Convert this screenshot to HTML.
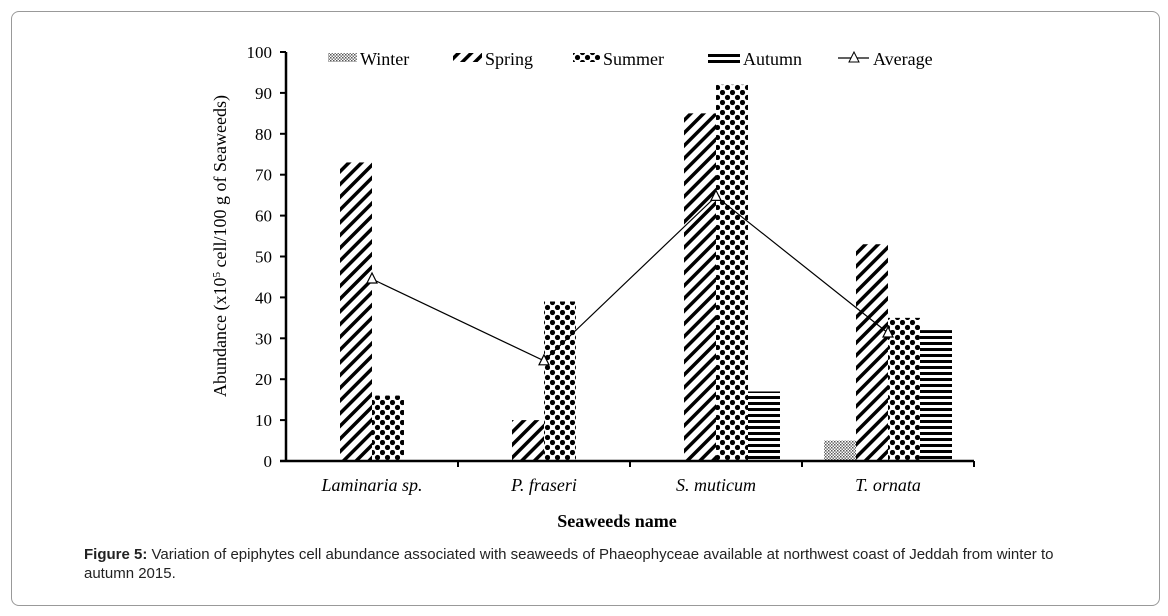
<!DOCTYPE html>
<html><head><meta charset="utf-8"><style>
html,body{margin:0;padding:0;background:#fff;}
body{width:1168px;height:616px;position:relative;overflow:hidden;font-family:"Liberation Serif",serif;}
#frame{position:absolute;left:11px;top:11px;width:1147px;height:593px;border:1px solid #999;border-radius:8px;}
#cap{position:absolute;left:84px;top:545px;width:1020px;font-family:"Liberation Sans",sans-serif;font-size:15px;line-height:19px;color:#222;}
</style></head><body>
<div id="frame"></div>
<svg id="chart" width="1168" height="616" style="position:absolute;left:0;top:0">
<defs>
<pattern id="pWinter" width="3" height="3" patternUnits="userSpaceOnUse"><rect width="3" height="3" fill="#fff"/><rect width="1.5" height="1.5" fill="#555"/><rect x="1.5" y="1.5" width="1.5" height="1.5" fill="#777"/></pattern>
<pattern id="pSpring" width="9" height="9" patternUnits="userSpaceOnUse" patternTransform="rotate(45)"><rect width="9" height="9" fill="#fff"/><rect width="3.5" height="9" fill="#000"/></pattern>
<pattern id="pSummer" width="10" height="10" patternUnits="userSpaceOnUse"><rect width="10" height="10" fill="#fff"/><circle cx="2.5" cy="2.5" r="2.6" fill="#000"/><circle cx="7.5" cy="7.5" r="2.6" fill="#000"/></pattern>
<pattern id="pAutumn" width="6" height="6" patternUnits="userSpaceOnUse"><rect width="6" height="6" fill="#fff"/><rect width="6" height="3" fill="#000"/></pattern>
</defs>
<g id="marks"></g>
</svg>
<div id="cap"><b>Figure 5:</b> Variation of epiphytes cell abundance associated with seaweeds of Phaeophyceae available at northwest coast of Jeddah from winter to autumn 2015.</div>
<script>
const categories=["Laminaria sp.","P. fraseri","S. muticum","T. ornata"];
const winter=[0,0,0,5];
const spring=[73,10,85,53];
const summer=[16,39,92,35];
const autumn=[0,0,17,32];
const average=[44.5,24.5,64.7,31.3];
const yTicks=[0,10,20,30,40,50,60,70,80,90,100];
const seriesNames=["Winter","Spring","Summer","Autumn"];

const NS="http://www.w3.org/2000/svg";
const g=document.getElementById('marks');
const x0=286,x1=974,y0=461,y100=52;
const yS=v=>y0-(v/100)*(y0-y100);
const bw=(x1-x0)/categories.length;
const xC=i=>x0+bw*(i+0.5);
const barW=32;
function mk(t,a,p){const e=document.createElementNS(NS,t);for(const k in a)e.setAttribute(k,a[k]);(p||g).appendChild(e);return e;}
const series=[winter,spring,summer,autumn];
const fills=["url(#pWinter)","url(#pSpring)","url(#pSummer)","url(#pAutumn)"];
series.forEach((s,si)=>{s.forEach((v,i)=>{if(v<=0)return;
 const r=mk('rect',{x:xC(i)-2*barW+si*barW,y:yS(v),width:barW,height:yS(0)-yS(v),fill:fills[si]});
 
 });});
const ya=mk('line',{x1:x0,y1:yS(100),x2:x0,y2:y0+1,stroke:'#000','stroke-width':2.5});

const xa=mk('line',{x1:x0-6,y1:y0,x2:x1,y2:y0,stroke:'#000','stroke-width':2.5});

yTicks.forEach(t=>{mk('line',{x1:x0-6,y1:yS(t),x2:x0,y2:yS(t),stroke:'#000','stroke-width':2});
 const tx=mk('text',{x:x0-14,y:yS(t)+6,'text-anchor':'end','font-size':17,'font-family':'Liberation Serif, serif'});tx.textContent=t;
 });
for(let i=1;i<=categories.length;i++)mk('line',{x1:x0+bw*i,y1:y0,x2:x0+bw*i,y2:y0+6,stroke:'#000','stroke-width':2});
categories.forEach((c,i)=>{const tx=mk('text',{x:xC(i),y:491,'text-anchor':'middle','font-size':18,'font-style':'italic','font-family':'Liberation Serif, serif'});tx.textContent=c;
 });
const pts=average.map((v,i)=>xC(i)+','+yS(v)).join(' ');
const pl=mk('polyline',{points:pts,fill:'none',stroke:'#000','stroke-width':1.2});

average.forEach((v,i)=>{const x=xC(i),y=yS(v);const m=mk('polygon',{points:`${x},${y-6} ${x-5},${y+4} ${x+5},${y+4}`,fill:'#fff',stroke:'#000','stroke-width':1.2});
 });
const xt=mk('text',{x:617,y:527,'text-anchor':'middle','font-size':18,'font-weight':'bold','font-family':'Liberation Serif, serif'});xt.textContent='Seaweeds name';

const yt=mk('text',{transform:'translate(226,246) rotate(-90)','text-anchor':'middle','font-size':18,'font-family':'Liberation Serif, serif'});
yt.innerHTML='Abundance (x10<tspan dy="-6" font-size="11">5</tspan><tspan dy="6"> cell/100 g of Seaweeds)</tspan>';

const lx=[328,453,573,708,838];
const lw=[29,29,27,32,32];
const names=seriesNames.concat(["Average"]);
names.forEach((n,i)=>{const lg=mk('g',{});
 if(i<4)mk('rect',{x:lx[i],y:i==3?52:53,width:lw[i],height:i==3?12:9,fill:fills[i]},lg);
 else{mk('line',{x1:lx[i],y1:58,x2:lx[i]+31,y2:58,stroke:'#000','stroke-width':1.2},lg);
  mk('polygon',{points:`${lx[i]+16},52 ${lx[i]+11},62 ${lx[i]+21},62`,fill:'#fff',stroke:'#000'},lg);}
 const t=mk('text',{x:lx[i]+lw[i]+3,y:65,'font-size':18,'font-family':'Liberation Serif, serif'},lg);t.textContent=n;});
</script>
</body></html>
